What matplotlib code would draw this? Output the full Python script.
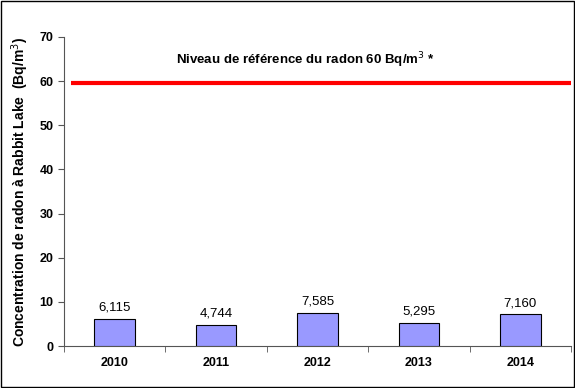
import matplotlib.pyplot as plt
from matplotlib.patches import Rectangle

plt.rcParams['font.family'] = ['Liberation Sans', 'DejaVu Sans']

years = ['2010', '2011', '2012', '2013', '2014']
radon = [6.115, 4.744, 7.585, 5.295, 7.160]
reference_level = 60
ref_label = 'Niveau de référence du radon 60 Bq/m$^{3}$ *'

fig = plt.figure(figsize=(5.75, 3.88), dpi=100)
ax = fig.add_axes([0.111, 0.108, 0.882, 0.797])

x = list(range(len(years)))
ax.bar(x, radon, width=0.4, color='#9999ff', edgecolor='black', linewidth=0.8, zorder=3)
for xi, v in zip(x, radon):
    ax.text(xi, v + 1.2, f'{v:.3f}'.replace('.', ','), ha='center', va='bottom', fontsize=9.5)

ax.plot([-0.43, 4.5], [reference_level - 0.4] * 2, color='#ff0000', linewidth=3, solid_capstyle='butt')
ax.text(1.88, 64.8, ref_label, ha='center', va='center', fontsize=9.5, fontweight='bold')

ax.set_xlim(-0.5, 4.5)
ax.set_ylim(0, 70)
ax.set_yticks(range(0, 71, 10))
ax.set_xticks(x)
ax.set_xticklabels(years, fontweight='bold', fontsize=9)
ax.set_xticks([i + 0.5 for i in range(-1, 5)], minor=True)
ax.tick_params(axis='x', which='major', length=0, pad=8)
ax.tick_params(axis='x', which='minor', length=4, direction='out', color='#555555')
ax.tick_params(axis='y', length=4, direction='out', color='#555555', labelsize=9)
for lab in ax.get_yticklabels():
    lab.set_fontweight('bold')
ax.set_ylabel('Concentration de radon à Rabbit Lake  (Bq/m$^{3}$)', fontweight='bold', fontsize=10,
              labelpad=6)

for s in ['top', 'right']:
    ax.spines[s].set_visible(False)
for s in ['left', 'bottom']:
    ax.spines[s].set_color('#555555')

fig.patches.append(Rectangle((0.002, 0.003), 0.996, 0.994, transform=fig.transFigure,
                             fill=False, edgecolor='black', linewidth=1))

fig.savefig('out.png', dpi=100)
